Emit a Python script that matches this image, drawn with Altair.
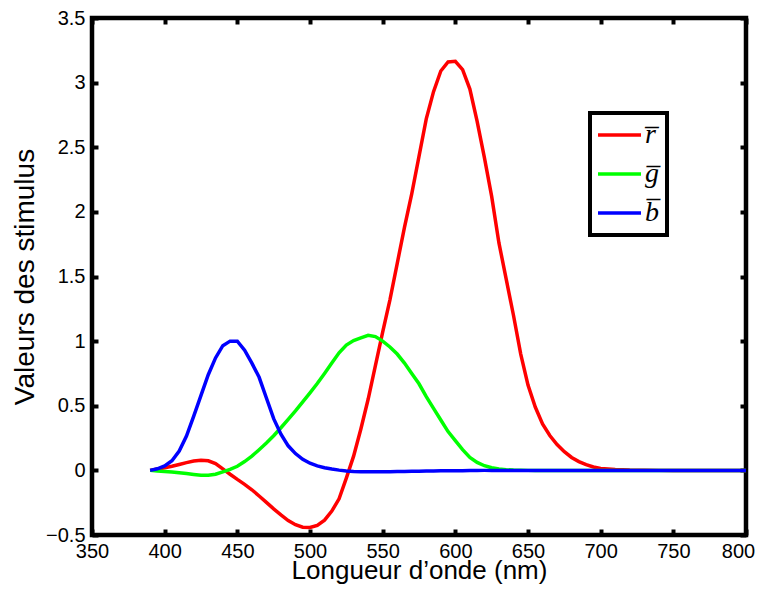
import altair as alt
import pandas as pd

# ---- data ----
wavelengths = [390, 395, 400, 405, 410, 415, 420, 425, 430, 435, 440, 445, 450, 455, 460, 465,
               470, 475, 480, 485, 490, 495, 500, 505, 510, 515, 520, 525, 530, 535, 540, 545,
               550, 555, 560, 565, 570, 575, 580, 585, 590, 595, 600, 605, 610, 615, 620, 625,
               630, 635, 640, 645, 650, 655, 660, 665, 670, 675, 680, 685, 690, 695, 700,
               710, 720, 730, 740, 750, 760, 770, 780, 790, 800]

r_bar = [0.000, 0.010, 0.020, 0.032, 0.046, 0.060, 0.072, 0.078, 0.074, 0.052, 0.012, -0.030,
         -0.070, -0.108, -0.150, -0.198, -0.248, -0.298, -0.345, -0.388, -0.420, -0.440, -0.442,
         -0.425, -0.385, -0.315, -0.220, -0.060, 0.110, 0.320, 0.550, 0.810, 1.070, 1.320, 1.600,
         1.880, 2.140, 2.430, 2.720, 2.930, 3.090, 3.160, 3.165, 3.100, 2.950, 2.700, 2.420, 2.120,
         1.760, 1.480, 1.200, 0.900, 0.660, 0.490, 0.360, 0.270, 0.200, 0.145, 0.100, 0.068, 0.044,
         0.026, 0.015, 0.006, 0.002, 0.001, 0.000, 0.000, 0.000, 0.000, 0.000, 0.000, 0.000]

g_bar = [0.000, -0.004, -0.008, -0.012, -0.018, -0.025, -0.032, -0.038, -0.038, -0.030, -0.012,
         0.008, 0.032, 0.068, 0.110, 0.160, 0.212, 0.268, 0.330, 0.395, 0.460, 0.530, 0.600, 0.672,
         0.750, 0.830, 0.910, 0.970, 1.005, 1.025, 1.045, 1.035, 1.000, 0.955, 0.900, 0.830, 0.750,
         0.670, 0.570, 0.480, 0.390, 0.300, 0.230, 0.160, 0.100, 0.062, 0.036, 0.020, 0.010, 0.005,
         0.002, 0.001, 0.000, 0.000, 0.000, 0.000, 0.000, 0.000, 0.000, 0.000, 0.000, 0.000, 0.000,
         0.000, 0.000, 0.000, 0.000, 0.000, 0.000, 0.000, 0.000, 0.000, 0.000]

b_bar = [0.000, 0.012, 0.035, 0.075, 0.150, 0.265, 0.420, 0.580, 0.740, 0.870, 0.965, 1.000,
         1.000, 0.930, 0.830, 0.720, 0.560, 0.400, 0.280, 0.190, 0.130, 0.085, 0.055, 0.035, 0.020,
         0.010, 0.002, -0.004, -0.008, -0.010, -0.011, -0.011, -0.010, -0.010, -0.009, -0.008,
         -0.007, -0.006, -0.005, -0.004, -0.003, -0.003, -0.002, -0.002, -0.001, -0.001, 0.000,
         0.000, 0.000, 0.000, 0.000, 0.000, 0.000, 0.000, 0.000, 0.000, 0.000, 0.000, 0.000, 0.000,
         0.000, 0.000, 0.000, 0.000, 0.000, 0.000, 0.000, 0.000, 0.000, 0.000, 0.000, 0.000, 0.000]

series_labels = ["r\u0305", "g\u0305", "b\u0305"]
series_colors = ["#ff0000", "#00ff00", "#0000ff"]
x_ticks = [350, 400, 450, 500, 550, 600, 650, 700, 750, 800]
y_ticks = [-0.5, 0, 0.5, 1, 1.5, 2, 2.5, 3, 3.5]

rows = []
for label, vals in zip(series_labels, [r_bar, g_bar, b_bar]):
    for w, v in zip(wavelengths, vals):
        rows.append({"wl": w, "val": v, "serie": label})
df = pd.DataFrame(rows)

W, H = 654, 517
FONT = "Liberation Sans"

x_scale = alt.Scale(domain=[350, 800], nice=False, zero=False)
y_scale = alt.Scale(domain=[-0.5, 3.5], nice=False, zero=False)

tick_style = dict(tickSize=6, tickWidth=4, tickColor="black", offset=-6, domain=False, grid=False)

lines = alt.Chart(df).mark_line(strokeWidth=3.5, clip=True).encode(
    x=alt.X("wl:Q", scale=x_scale, axis=alt.Axis(
        orient="bottom", values=x_ticks, format="~f", labelPadding=6, labelFontSize=20,
        labelFont=FONT, labelColor="black", labelFlush=False, labelOverlap=False,
        labelOffset={"condition": {"test": "datum.value == 800", "value": -8}, "value": 0},
        title="Longueur d\u2019onde (nm)", titleFont=FONT, titleFontSize=26,
        titleFontWeight="normal", titleColor="black", titleX=W / 2, titleY=49,
        titleBaseline="alphabetic", **tick_style)),
    y=alt.Y("val:Q", scale=y_scale, axis=alt.Axis(
        orient="left", values=y_ticks, format="~f", labelPadding=7, labelFontSize=20,
        labelFont=FONT, labelColor="black", labelFlush=False, labelOverlap=False,
        title="Valeurs des stimulus", titleFont=FONT, titleFontSize=28,
        titleFontWeight="normal", titleColor="black", titleX=-65, titleY=H / 2,
        titleBaseline="alphabetic", **tick_style)),
    color=alt.Color("serie:N", sort=series_labels,
                    scale=alt.Scale(domain=series_labels, range=series_colors),
                    legend=alt.Legend(
                        title=None, orient="none", legendX=498, legendY=95,
                        symbolType="M-2,0H2", symbolSize=462, symbolStrokeWidth=3.5,
                        symbolOffset=7.5, labelOffset=11.5, labelFontSize=28,
                        labelFont="Liberation Serif", labelFontStyle="italic",
                        labelColor="black", rowPadding=11, padding=8,
                        strokeColor="black", fillColor="white", cornerRadius=0)),
)

mirror = alt.Chart(df).mark_line(opacity=0).encode(
    x=alt.X("wl:Q", scale=x_scale, axis=alt.Axis(
        orient="top", values=x_ticks, labels=False, title=None, **tick_style)),
    y=alt.Y("val:Q", scale=y_scale, axis=alt.Axis(
        orient="right", values=y_ticks, labels=False, title=None, **tick_style)),
)

chart = alt.layer(lines, mirror).resolve_axis(
    x="independent", y="independent"
).properties(
    width=W, height=H,
    autosize=alt.AutoSizeParams(type="none"),
    padding={"left": 84, "top": 10, "right": 10, "bottom": 49},
).configure(font=FONT).configure_view(
    stroke="black", strokeWidth=4.5
).configure_legend(strokeWidth=4)

chart.save("out.html", embed_options={"renderer": "svg", "actions": False})
